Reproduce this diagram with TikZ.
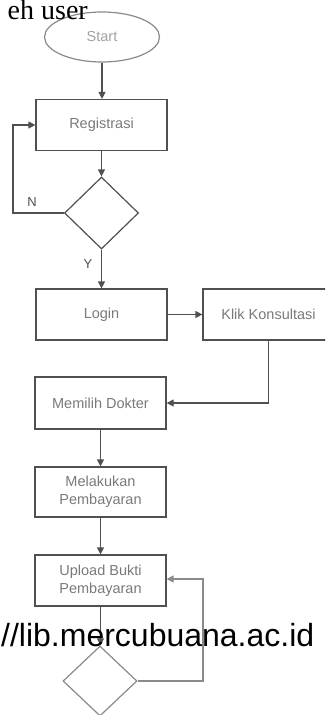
\documentclass[tikz,border=0pt]{standalone}
\usepackage{fontspec}
\setmainfont{Liberation Serif}
\newfontfamily\arialfont{Liberation Sans}
\usetikzlibrary{shapes.geometric,arrows.meta}
\definecolor{edgegray}{HTML}{505050}
\definecolor{textgray}{HTML}{7A7A7A}
\definecolor{lightline}{HTML}{8A8A8A}
\tikzset{
  procbox/.style={draw=edgegray, line width=1.2pt, fill=white, rectangle,
    minimum width=131pt, minimum height=51pt, inner sep=0pt, align=center,
    font=\arialfont\fontsize{14.5}{18}\selectfont, text=textgray},
  terminal/.style={draw=lightline, line width=1.2pt, fill=white, ellipse,
    minimum width=115pt, minimum height=50pt, inner sep=0pt,
    font=\arialfont\fontsize{14.5}{18}\selectfont, text=textgray!70},
  decision/.style={draw=edgegray, line width=1.2pt, fill=white, diamond,
    minimum width=74pt, minimum height=72pt, inner sep=0pt},
  flow/.style={draw=edgegray, line width=1.2pt,
    -{Triangle[length=7pt,width=7pt]}},
  branch/.style={font=\arialfont\fontsize{13}{15}\selectfont, text=edgegray, inner sep=0pt}
}
\begin{document}
\begin{tikzpicture}[x=1pt,y=-1pt]
  \clip (0,0) rectangle (325,715);
  \fill[white] (0,0) rectangle (325,715);

  % flowchart steps
  \node[terminal] (start) at (102,37) {Start};
  \node[procbox] (reg) at (101.5,125) {Registrasi};
  \node[decision] (d1) at (101.5,213) {};
  \node[procbox] (login) at (101.5,314.5) {Login};
  \node[procbox] (klik) at (268.5,314.5) {Klik Konsultasi};
  \node[procbox, minimum height=52pt] (dokter) at (100.5,403) {Memilih Dokter};
  \node[procbox, minimum height=50pt] (bayar) at (100.5,492) {Melakukan\\Pembayaran};
  \node[procbox] (upload) at (100.5,580.5) {Upload Bukti\\Pembayaran};
  \node[decision, draw=lightline, minimum height=70pt] (d2) at (100,681) {};

  % connectors
  \draw[flow] (start.south) -- (start.south |- reg.north);
  \draw[flow] (reg.south) -- (reg.south |- d1.north);
  \coordinate (nback) at (13,213);
  \draw[flow] (d1.west) -- (nback) |- (reg.west);
  \node[branch] (nlabel) at (32,202) {N};
  \draw[flow] (d1.south) -- (d1.south |- login.north);
  \node[branch] (ylabel) at (88,264) {Y};
  \draw[flow] (login.east) -- (klik.west);
  \draw[flow] (klik.south) |- (dokter.east);
  \draw[flow] (dokter.south) -- (dokter.south |- bayar.north);
  \draw[flow] (bayar.south) -- (bayar.south |- upload.north);
  \draw[flow] (upload.south) -- (upload.south |- d2.north);
  \coordinate (uback) at (203,579);
  \draw[flow, draw=lightline] (d2.east) -| (uback) -- (uback -| upload.east);

  % page text printed over the chart
  \node[anchor=base east, inner sep=0pt, font=\fontsize{28}{32}\selectfont] (caption) at (88,19) {eh user};
  \node[anchor=base west, inner sep=0pt, font=\arialfont\fontsize{32}{36}\selectfont] (url) at (1,646) {//lib.mercubuana.ac.id};
\end{tikzpicture}
\end{document}
